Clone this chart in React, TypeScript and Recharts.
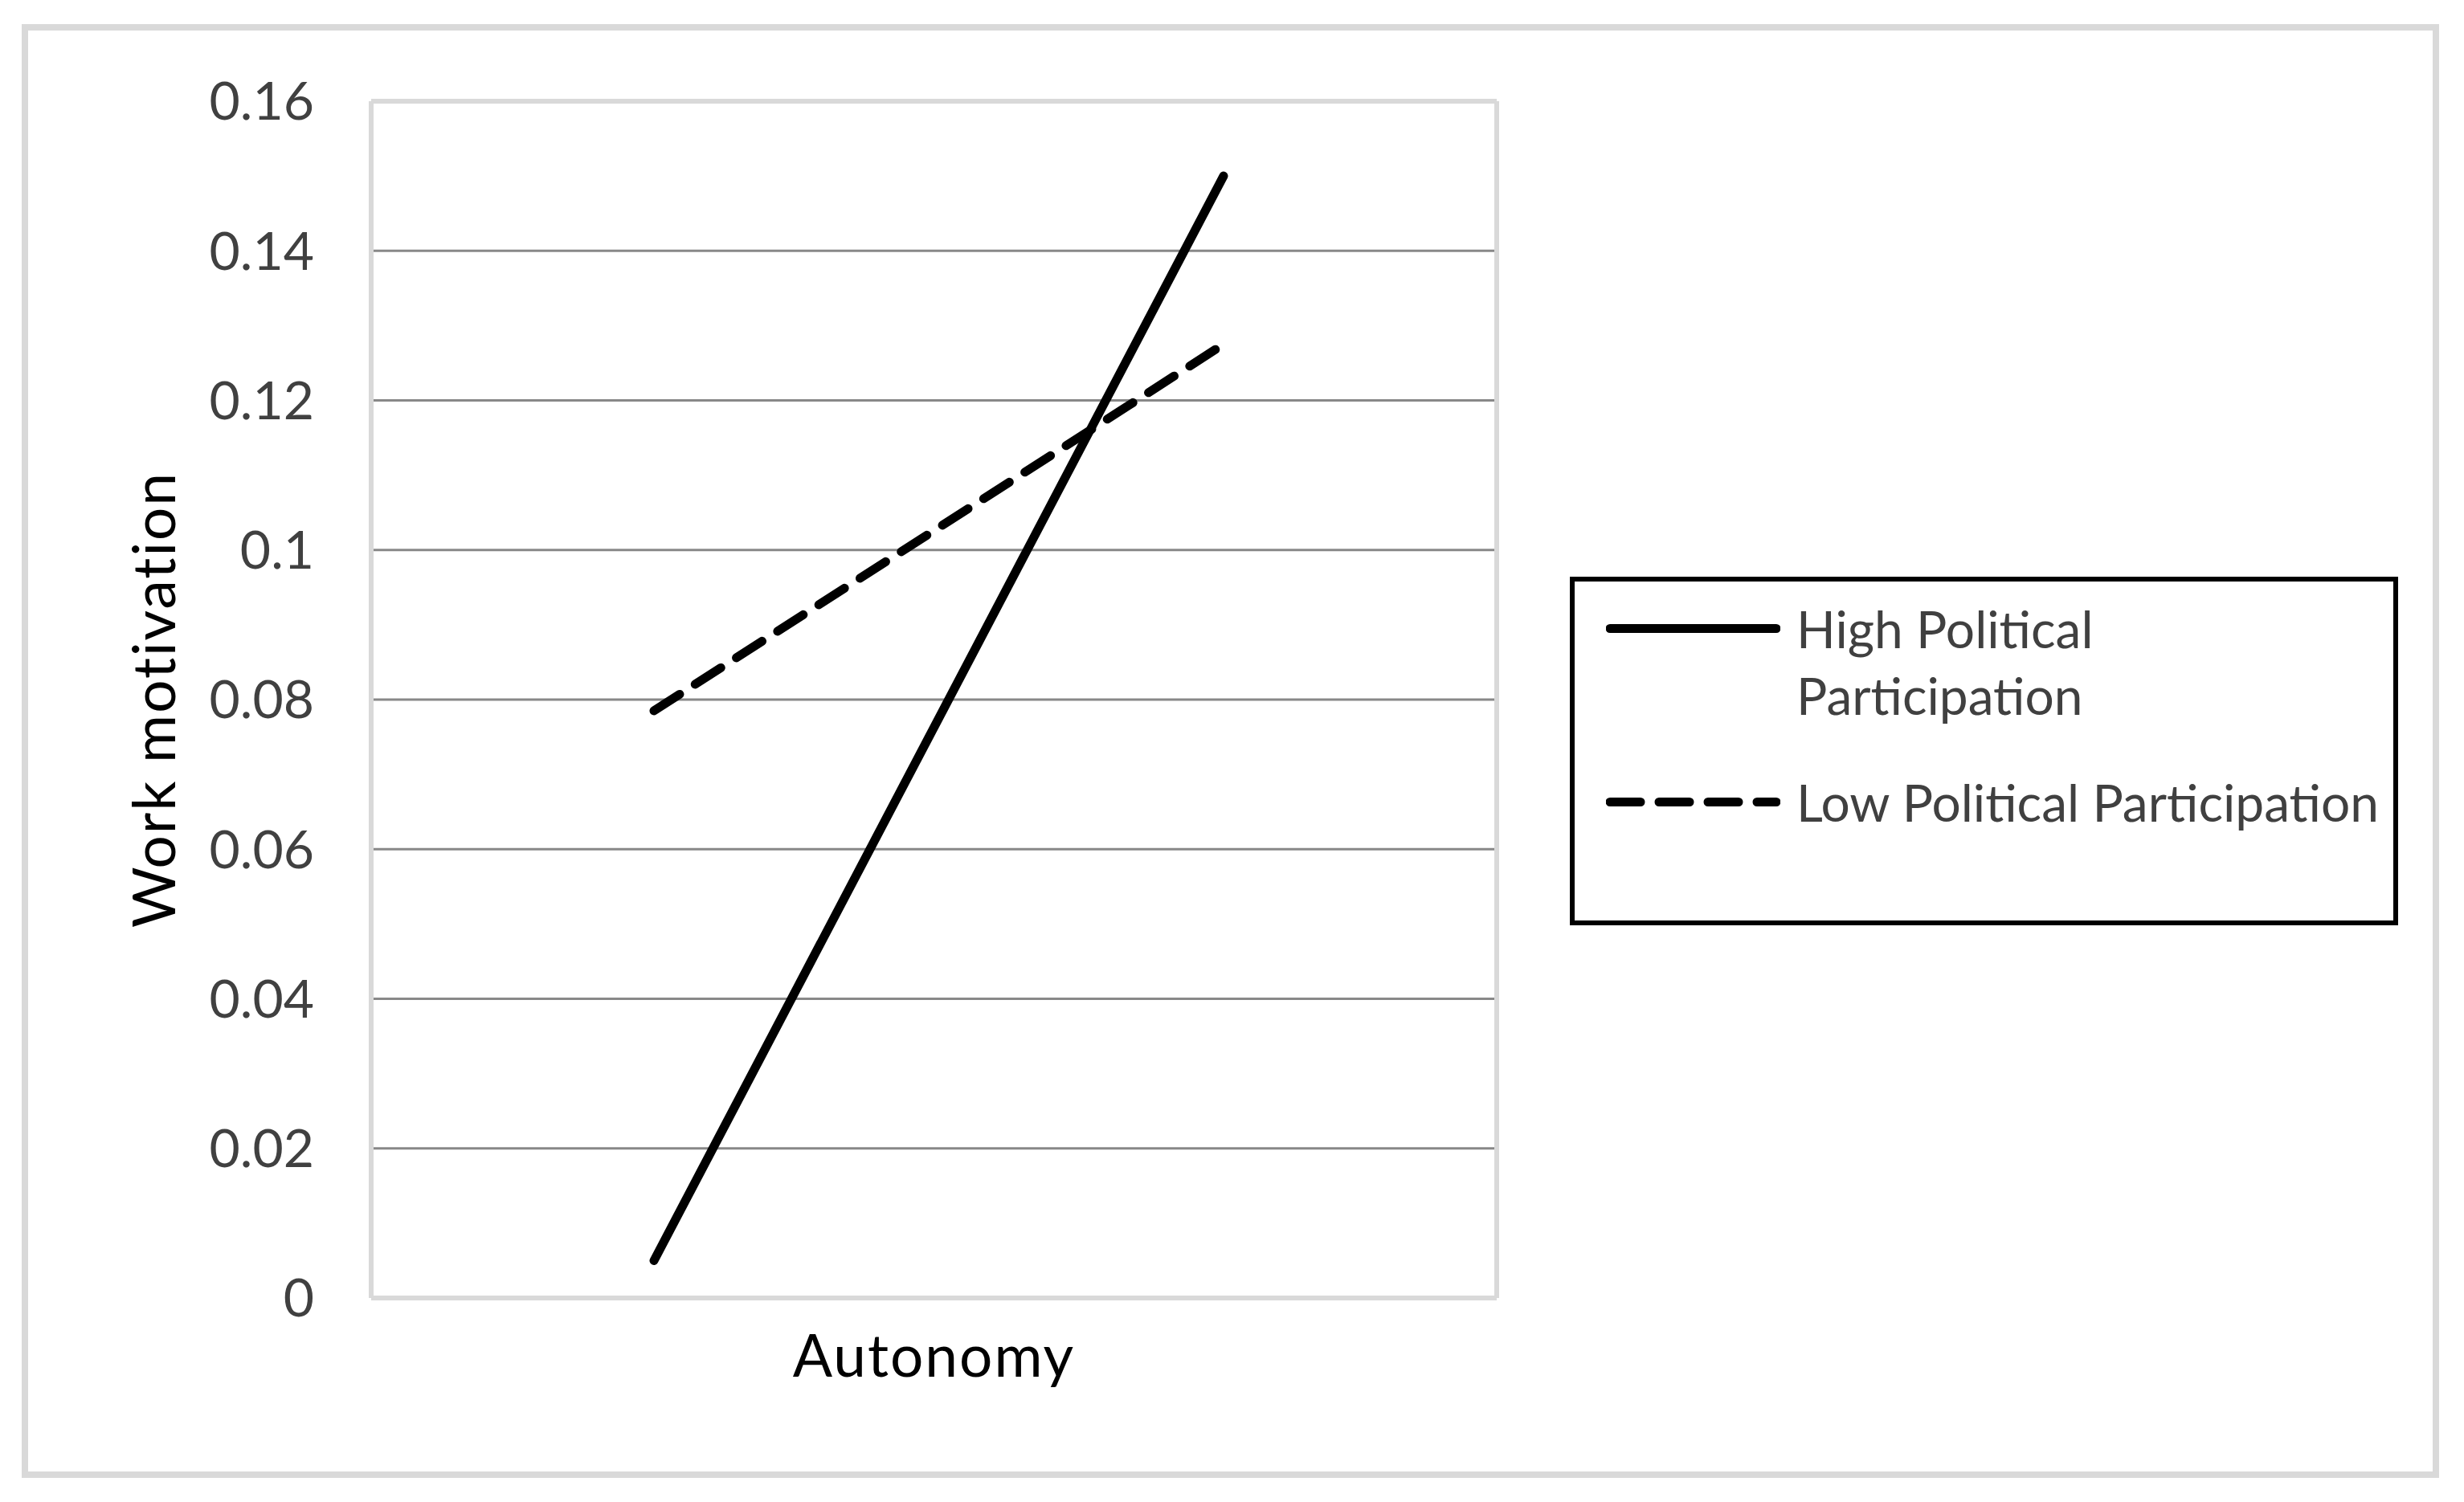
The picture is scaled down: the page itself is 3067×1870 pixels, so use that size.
import React from 'react';
import { LineChart, Line, XAxis, YAxis, CartesianGrid, Legend, ReferenceLine } from 'recharts';

// values
const categories = ['Low Autonomy', 'High Autonomy'];
const highPolitical = [0.005, 0.15];
const lowPolitical = [0.0785, 0.1275];
const yTicks = [0, 0.02, 0.04, 0.06, 0.08, 0.1, 0.12, 0.14, 0.16];
const gridValues = [0.02, 0.04, 0.06, 0.08, 0.1, 0.12, 0.14];
const seriesKeys = ['high', 'low'];
const seriesNames = ['High Political Participation', 'Low Political Participation'];
const seriesAxis = ['left', 'right'];
const seriesDash = [undefined, '38 23'];
const legendTextWidth = [560, 760];

const data = categories.map((name, i) => ({
  name,
  high: highPolitical[i],
  low: lowPolitical[i],
}));

const FONT = 'Lato, "Open Sans", sans-serif';
const FRAME = { stroke: '#d9d9d9', strokeWidth: 6 };

const LegendBox = () => (
  <div
    style={{
      boxSizing: 'border-box',
      width: 1031,
      height: 434,
      border: '6px solid #000',
      background: '#fff',
      paddingTop: 17,
      fontFamily: FONT,
      fontSize: 64,
      lineHeight: '83px',
      color: '#404040',
    }}
  >
    {seriesNames.map((name, i) => (
      <div key={name} style={{ display: 'flex', alignItems: 'flex-start', marginLeft: 39, marginBottom: 50 }}>
        <svg width={217} height={83} style={{ flex: 'none' }}>
          <line
            x1={5}
            x2={212}
            y1={41.5}
            y2={41.5}
            stroke="#000"
            strokeWidth={11}
            strokeLinecap="round"
            strokeDasharray={seriesDash[i]}
          />
        </svg>
        <span style={{ marginLeft: 20, maxWidth: legendTextWidth[i], textAlign: 'left' }}>{name}</span>
      </div>
    ))}
  </div>
);

const YTitle = (props: any) => {
  const { viewBox } = props;
  const cx = viewBox.x + 190;
  const cy = viewBox.y + viewBox.height / 2;
  return (
    <text
      x={cx}
      y={cy}
      transform={`rotate(-90, ${cx}, ${cy})`}
      textAnchor="middle"
      dominantBaseline="central"
      fontFamily={FONT}
      fontSize={73}
      letterSpacing={2}
      fill="#000"
    >
      Work motivation
    </text>
  );
};

const XTitle = (props: any) => {
  const { viewBox } = props;
  return (
    <text
      x={viewBox.x + viewBox.width / 2}
      y={viewBox.y + 70}
      textAnchor="middle"
      dominantBaseline="central"
      fontFamily={FONT}
      fontSize={73}
      letterSpacing={2}
      fill="#000"
    >
      Autonomy
    </text>
  );
};

export default function App() {
  return (
    <div style={{ position: 'absolute', left: 0, top: 0, width: 3067, height: 1870, background: '#fff' }}>
      <div
        style={{
          position: 'absolute',
          left: 27,
          top: 30,
          width: 3009,
          height: 1810,
          boxSizing: 'border-box',
          border: '8px solid #d9d9d9',
        }}
      />
      <LineChart
        width={3067}
        height={1870}
        data={data}
        margin={{ top: 126, right: 1194, bottom: 154, left: 0 }}
      >
        <CartesianGrid
          vertical={false}
          horizontalValues={gridValues}
          stroke="#888888"
          strokeWidth={3}
          yAxisId="left"
        />
        <XAxis
          dataKey="name"
          tick={false}
          tickLine={false}
          axisLine={FRAME}
          height={100}
          padding={{ left: 352, right: 340 }}
          label={<XTitle />}
        />
        <YAxis
          yAxisId="left"
          domain={[0, 0.16]}
          ticks={yTicks}
          width={462}
          tickLine={false}
          axisLine={FRAME}
          tickSize={0}
          tickMargin={71}
          tick={{ fontSize: 66, fill: '#404040', fontFamily: FONT }}
          label={<YTitle />}
        />
        <YAxis
          yAxisId="right"
          orientation="right"
          domain={[0, 0.16]}
          ticks={yTicks}
          width={10}
          tick={false}
          tickLine={false}
          axisLine={FRAME}
        />
        <ReferenceLine yAxisId="left" y={0.16} stroke="#d9d9d9" strokeWidth={6} />
        {seriesKeys.map((key, i) => (
          <Line
            key={key}
            yAxisId={seriesAxis[i]}
            dataKey={key}
            name={seriesNames[i]}
            stroke="#000"
            strokeWidth={11}
            strokeLinecap="round"
            strokeDasharray={seriesDash[i]}
            dot={false}
            activeDot={false}
            isAnimationActive={false}
          />
        ))}
        <Legend
          layout="vertical"
          align="center"
          verticalAlign="middle"
          wrapperStyle={{ left: 1954, top: 718, width: 1031, height: 434 }}
          content={<LegendBox />}
        />
      </LineChart>
    </div>
  );
}
